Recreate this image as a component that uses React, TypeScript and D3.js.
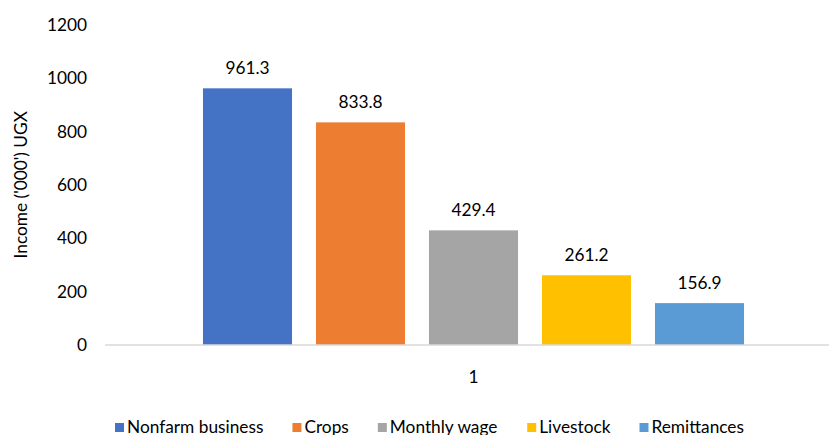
import React from "react";
import * as d3 from "d3";

const categories = ["1"];
const seriesNames = ["Nonfarm business", "Crops", "Monthly wage", "Livestock", "Remittances"];
const seriesValues = [961.3, 833.8, 429.4, 261.2, 156.9];
const seriesColors = ["#4472C4", "#ED7D31", "#A5A5A5", "#FFC000", "#5B9BD5"];
const yTicks = [0, 200, 400, 600, 800, 1000, 1200];
const yTitle = "Income ('000') UGX";

const W = 829;
const H = 435;
const FONT = "Lato, 'Open Sans', sans-serif";
const FS = 17.3;

function measure(text: string, size: number) {
  const c = document.createElement("canvas");
  const ctx = c.getContext("2d")!;
  ctx.font = `${size}px Lato`;
  return ctx.measureText(text).width;
}

export default function App() {
  const plotLeft = 105;
  const plotRight = 842;
  const plotTop = 24.6;
  const plotBottom = 345;

  const y = d3.scaleLinear().domain([0, 1200]).range([plotBottom, plotTop]);
  const x0 = d3.scaleBand<string>().domain(categories).range([plotLeft, plotRight]);
  const x1 = d3
    .scaleBand<string>()
    .domain(seriesNames)
    .range([0, x0.bandwidth()])
    .paddingInner(0.212)
    .paddingOuter(0.867);

  // legend layout
  const sq = 9;
  const sqGap = 3;
  const itemGap = 29;
  const widths = seriesNames.map((n) => measure(n, FS));
  const total =
    widths.reduce((a, b) => a + b, 0) + seriesNames.length * (sq + sqGap) + (seriesNames.length - 1) * itemGap;
  let cursor = 429.5 - total / 2;
  const legendItems = seriesNames.map((n, i) => {
    const item = { name: n, x: cursor, color: seriesColors[i] };
    cursor += sq + sqGap + widths[i] + itemGap;
    return item;
  });

  return (
    <svg
      width={W}
      height={H}
      style={{ position: "absolute", left: 0, top: 0, background: "#fff", fontFamily: FONT }}
    >
      <rect width={W} height={H} fill="#fff" />
      {yTicks.map((t) => (
        <text key={t} x={87} y={y(t)} dy="0.36em" textAnchor="end" fontSize={FS} fill="#000">
          {t}
        </text>
      ))}
      <text
        transform={`translate(27,${(plotTop + plotBottom) / 2}) rotate(-90)`}
        textAnchor="middle"
        fontSize={FS}
        fill="#000"
      >
        {yTitle}
      </text>
      {categories.map((c) =>
        seriesNames.map((s, i) => {
          const bx = (x0(c) ?? 0) + (x1(s) ?? 0);
          const v = seriesValues[i];
          return (
            <g key={s}>
              <rect x={bx} y={y(v)} width={x1.bandwidth()} height={y(0) - y(v)} fill={seriesColors[i]} />
              <text
                x={bx + x1.bandwidth() / 2}
                y={y(v) - 14}
                textAnchor="middle"
                fontSize={FS}
                fill="#000"
              >
                {v.toFixed(1)}
              </text>
            </g>
          );
        })
      )}
      <line x1={plotLeft} x2={plotRight} y1={plotBottom} y2={plotBottom} stroke="#d9d9d9" strokeWidth={1.5} />
      {categories.map((c) => (
        <text
          key={c}
          x={(x0(c) ?? 0) + x0.bandwidth() / 2}
          y={383}
          textAnchor="middle"
          fontSize={FS}
          fill="#000"
        >
          {c}
        </text>
      ))}
      {legendItems.map((it) => (
        <g key={it.name}>
          <rect x={it.x} y={423} width={sq} height={sq} fill={it.color} />
          <text x={it.x + sq + sqGap} y={432.5} fontSize={FS} fill="#000">
            {it.name}
          </text>
        </g>
      ))}
    </svg>
  );
}
